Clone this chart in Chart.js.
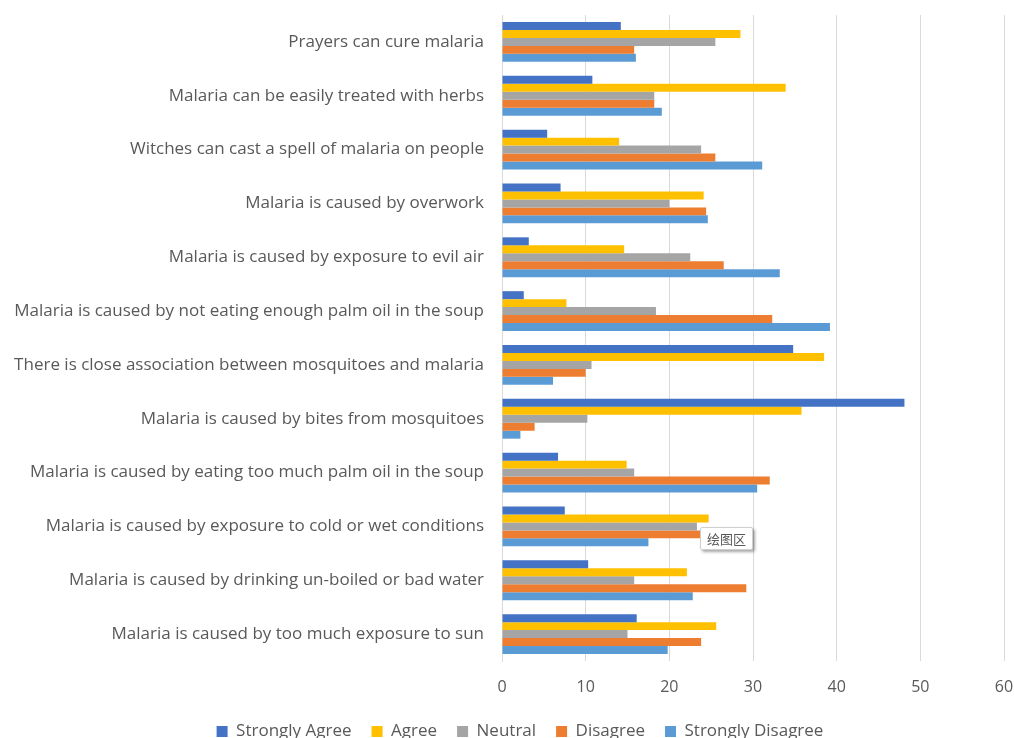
<!DOCTYPE html>
<html>
<head>
<meta charset="utf-8">
<title>Malaria beliefs</title>
<script src="https://cdn.jsdelivr.net/npm/chart.js@4/dist/chart.umd.min.js"></script>
<style>
  html, body { margin: 0; padding: 0; background: #fff; overflow: hidden; }
  #wrap { position: relative; width: 1014px; height: 750px; }
  #tip {
    position: absolute; left: 700px; top: 527px; width: 51px; height: 21px;
    background: #fff; border: 1px solid #d0d0d0; border-radius: 2px;
    box-shadow: 2px 2px 3px rgba(0,0,0,0.35);
    font: 13px "Noto Sans CJK SC", sans-serif; color: #595959;
    line-height: 21px; text-align: center;
  }
</style>
</head>
<body>
<div id="wrap">
  <canvas id="chart" width="1014" height="750"></canvas>
  <div id="tip">绘图区</div>
</div>
<script>
// Survey statements, top to bottom
const statements = [
  'Prayers can cure malaria',
  'Malaria can be easily treated with herbs',
  'Witches can cast a spell of malaria on people',
  'Malaria is caused by overwork',
  'Malaria is caused by exposure to evil air',
  'Malaria is caused by not eating enough palm oil in the soup',
  'There is close association between mosquitoes and malaria',
  'Malaria is caused by bites from mosquitoes',
  'Malaria is caused by eating too much palm oil in the soup',
  'Malaria is caused by exposure to cold or wet conditions',
  'Malaria is caused by drinking un-boiled or bad water',
  'Malaria is caused by too much exposure to sun'
];

// Response shares (%) per statement
const stronglyAgree    = [14.2, 10.8, 5.4, 7.0, 3.2, 2.6, 34.8, 48.1, 6.7, 7.5, 10.3, 16.1];
const agree            = [28.5, 33.9, 14.0, 24.1, 14.6, 7.7, 38.5, 35.8, 14.9, 24.7, 22.1, 25.6];
const neutral          = [25.5, 18.2, 23.8, 20.0, 22.5, 18.4, 10.7, 10.2, 15.8, 23.3, 15.8, 15.0];
const disagree         = [15.8, 18.2, 25.5, 24.4, 26.5, 32.3, 10.0, 3.9, 32.0, 27.0, 29.2, 23.8];
const stronglyDisagree = [16.0, 19.1, 31.1, 24.6, 33.2, 39.2, 6.1, 2.2, 30.5, 17.5, 22.8, 19.8];

const xTicks = [0, 10, 20, 30, 40, 50, 60];

const series = [
  { label: 'Strongly Agree', data: stronglyAgree, color: '#4472C4' },
  { label: 'Agree', data: agree, color: '#FFC000' },
  { label: 'Neutral', data: neutral, color: '#A5A5A5' },
  { label: 'Disagree', data: disagree, color: '#ED7D31' },
  { label: 'Strongly Disagree', data: stronglyDisagree, color: '#5B9BD5' }
];

const textColor = '#595959';
const fontFamily = '"Open Sans", "Noto Sans", sans-serif';

// nudge the legend row a little right of the canvas centre
const legendShift = {
  id: 'legendShift',
  afterLayout(chart) {
    chart.legend.left += 18;
    chart.legend.right += 18;
  }
};

new Chart(document.getElementById('chart'), {
  type: 'bar',
  data: {
    labels: statements,
    datasets: series.map(s => ({
      label: s.label,
      data: s.data,
      backgroundColor: s.color,
      borderWidth: 0,
      categoryPercentage: 0.74,
      barPercentage: 1.0
    }))
  },
  plugins: [legendShift],
  options: {
    indexAxis: 'y',
    responsive: false,
    animation: false,
    layout: { padding: { top: 15, right: 10, left: 0, bottom: 0 } },
    plugins: {
      tooltip: { enabled: false },
      legend: {
        position: 'bottom',
        labels: {
          color: textColor,
          font: { family: fontFamily, size: 17 },
          boxWidth: 11,
          boxHeight: 11,
          padding: 20
        }
      }
    },
    scales: {
      x: {
        min: 0,
        max: 60,
        afterBuildTicks: scale => {
          scale.ticks = xTicks.map(v => ({ value: v }));
        },
        afterFit: scale => {
          scale.height = 42;
          scale.paddingLeft = 0;
          scale.paddingRight = 0;
        },
        grid: { color: '#d9d9d9', drawTicks: false },
        border: { display: false },
        ticks: {
          color: textColor,
          font: { family: fontFamily, size: 16 },
          padding: 17
        }
      },
      y: {
        afterFit: scale => {
          scale.width = 502;
          scale.paddingTop = 0;
          scale.paddingBottom = 0;
        },
        grid: { display: false, drawTicks: false },
        border: { display: true, color: '#d9d9d9' },
        ticks: {
          color: textColor,
          font: { family: fontFamily, size: 17 },
          padding: 18,
          autoSkip: false
        }
      }
    }
  }
});
</script>
</body>
</html>
